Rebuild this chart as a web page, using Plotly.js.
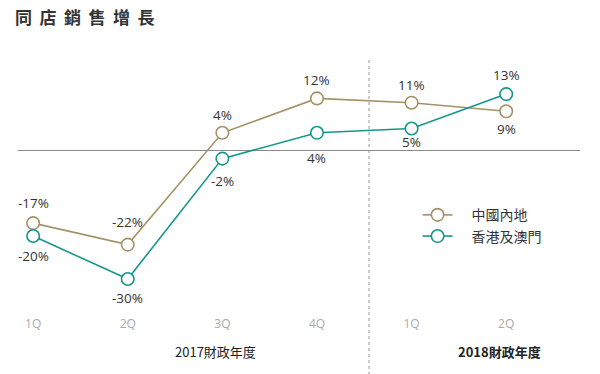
<!DOCTYPE html>
<html>
<head>
<meta charset="utf-8">
<script src="https://cdn.plot.ly/plotly-3.0.1.min.js"></script>
<style>html,body{margin:0;padding:0;background:#fff}</style>
</head>
<body>
<div id="chart" style="width:600px;height:374px"></div>
<script>
const quarters = ['1Q', '2Q', '3Q', '4Q', '1Q', '2Q'];
const xIndex = [0, 1, 2, 3, 4, 5];
const mainland = [-17, -22, 4, 12, 11, 9];
const hkMacau = [-20, -30, -2, 4, 5, 13];
const seriesNames = ['中國內地', '香港及澳門'];
const yearLabels = ['2017財政年度', '2018財政年度'];

// label placement (layout only): vertical pixel shift of each value label
const mainlandShift = [20, 23, 18, 18, 18, -18];
const hkShift = [-20, -19, -22, -25, -13, 19];
const yearCenters = [1.93, 4.93];

const gold = '#a39265';
const teal = '#15968c';
const font = 'Open Sans, Noto Sans CJK TC, sans-serif';
const cjk = 'Noto Sans CJK TC, sans-serif';

function trace(vals, name, color) {
  return {
    x: xIndex, y: vals, name: name,
    mode: 'lines+markers',
    line: {color: color, width: 1.6},
    marker: {symbol: 'circle', size: 12.5, color: '#fff', line: {color: color, width: 1.6}},
    cliponaxis: false,
    hoverinfo: 'skip'
  };
}

const data = [
  trace(mainland, seriesNames[0], gold),
  trace(hkMacau, seriesNames[1], teal)
];

const valueLabels = [];
[[mainland, mainlandShift], [hkMacau, hkShift]].forEach(([vals, shifts]) => {
  vals.forEach((v, i) => valueLabels.push({
    xref: 'x', yref: 'y', x: xIndex[i], y: v, text: v + '%', showarrow: false,
    xanchor: 'center', yanchor: 'middle', yshift: shifts[i],
    font: {family: font, size: 13.5, color: '#333'}
  }));
});

const layout = {
  width: 600, height: 374,
  margin: {l: 18, r: 20, t: 50, b: 74},
  paper_bgcolor: '#fff', plot_bgcolor: '#fff',
  font: {family: font},
  title: {
    text: '<b>同店銷售增長</b>',
    xref: 'container', yref: 'container', x: 0.025, xanchor: 'left', y: 0.952, yanchor: 'middle',
    font: {family: cjk, size: 17, color: '#333'}
  },
  showlegend: true,
  legend: {
    x: 0.711, y: 0.403, xanchor: 'left', yanchor: 'top',
    font: {family: cjk, size: 14, color: '#333'},
    itemwidth: 30, tracegroupgap: 8, bgcolor: 'rgba(0,0,0,0)'
  },
  xaxis: {
    range: [-0.16, 5.78], showgrid: false, zeroline: false, showline: false,
    tickvals: xIndex, ticktext: quarters, ticks: '', ticklabelstandoff: 15,
    tickfont: {family: font, size: 12, color: '#aaa'}, fixedrange: true
  },
  yaxis: {
    range: [-34.88, 23.26], showgrid: false, showticklabels: false, ticks: '',
    zeroline: true, zerolinecolor: '#8a8a8a', zerolinewidth: 1, fixedrange: true
  },
  shapes: [{
    type: 'line', xref: 'x', yref: 'paper', x0: 3.55, x1: 3.55, y0: 0.96, y1: -0.3,
    line: {color: '#999', width: 1, dash: 'dot'}
  }],
  annotations: valueLabels.concat([
    {xref: 'x', yref: 'paper', x: yearCenters[0], y: -0.205, text: yearLabels[0], showarrow: false,
     xanchor: 'center', yanchor: 'middle', font: {family: cjk, size: 13, color: '#222'}},
    {xref: 'x', yref: 'paper', x: yearCenters[1], y: -0.205, text: '<b>' + yearLabels[1] + '</b>', showarrow: false,
     xanchor: 'center', yanchor: 'middle', font: {family: cjk, size: 13, color: '#222'}}
  ])
};

Plotly.newPlot('chart', data, layout, {displayModeBar: false, staticPlot: true}).then(() => {
  document.querySelectorAll('.gtitle').forEach(t => t.style.letterSpacing = '7.5px');
  document.querySelectorAll('.legend .scrollbox').forEach(e => e.removeAttribute('clip-path'));
  document.querySelectorAll('.legendtext').forEach(t => {
    t.setAttribute('transform', 'translate(14,0)');
  });
});
</script>
</body>
</html>
